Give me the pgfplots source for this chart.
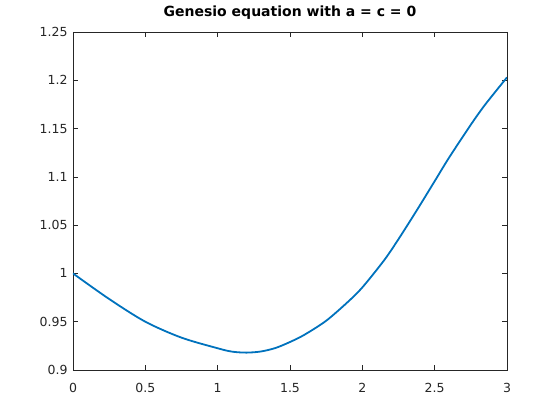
\documentclass[border=0pt]{standalone}
\usepackage{pgfplots}
\pgfplotsset{compat=1.18}
\usepackage{fontspec}
\setmainfont{DejaVu Sans}
\definecolor{mblue}{rgb}{0,0.447,0.741}
\definecolor{axgray}{rgb}{0.15,0.15,0.15}
\begin{document}
\begin{tikzpicture}
\begin{axis}[
  scale only axis,
  width=434pt, height=338pt,
  xmin=0, xmax=3, ymin=0.9, ymax=1.25,
  xtick={0,0.5,1,1.5,2,2.5,3},
  xticklabels={0,0.5,1,1.5,2,2.5,3},
  ytick={0.9,0.95,1,1.05,1.1,1.15,1.2,1.25},
  yticklabels={0.9,0.95,1,1.05,1.1,1.15,1.2,1.25},
  tick align=inside,
  major tick length=5pt,
  axis line style={axgray, line width=0.6pt},
  every tick/.style={axgray, line width=0.6pt},
  tick label style={font=\fontsize{12.5}{14}\selectfont, text=axgray},
  /pgf/number format/assume math mode=true,
  title={\bfseries Genesio equation with a = c = 0},
  title style={font=\fontsize{14}{16}\selectfont, anchor=base, at={(0.5,1)}, yshift=9pt},
  xticklabel style={anchor=base, yshift=-22.7pt},
  yticklabel style={xshift=-2pt},
]
\addplot[mblue, line width=1.8pt, smooth] coordinates {
(0.00,1.000) (0.25,0.9735) (0.50,0.9500) (0.75,0.9335) (1.00,0.9225)
(1.10,0.9190) (1.20,0.9180) (1.30,0.9192) (1.40,0.9228) (1.50,0.9290)
(1.60,0.9365) (1.75,0.9510) (1.90,0.9705) (2.00,0.9855) (2.15,1.0135)
(2.25,1.0355) (2.375,1.0650) (2.50,1.0955) (2.60,1.1200) (2.75,1.1540)
(2.85,1.1750) (3.00,1.2030)
};
\end{axis}
\path (current axis.south west) ++(-73pt,-50pt) rectangle ++(560pt,420pt);
\end{tikzpicture}
\end{document}
